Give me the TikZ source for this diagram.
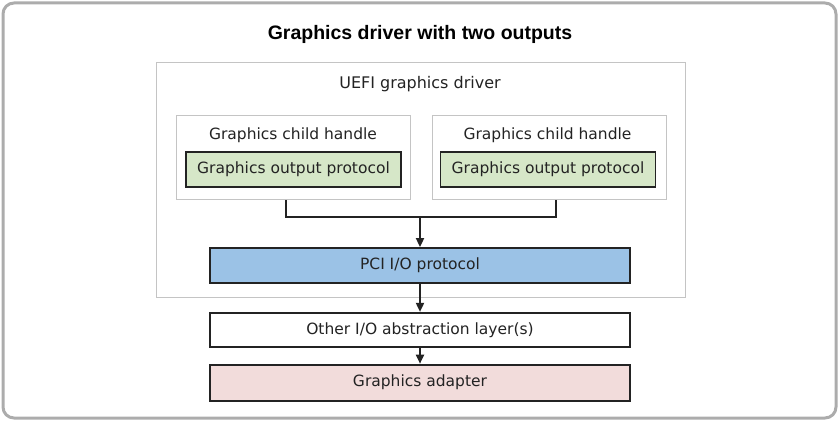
\documentclass[tikz,border=0pt]{standalone}
\usepackage{fontspec}
\setmainfont{DejaVu Sans}
\newfontfamily\headfont{Liberation Sans}
\usepackage{tikz}
\usepackage{xcolor}
\usetikzlibrary{arrows.meta,positioning}
\definecolor{gopGreen}{RGB}{214,231,200}
\definecolor{pciBlue}{RGB}{155,194,230}
\definecolor{adapterPink}{RGB}{242,220,219}
\definecolor{frameGray}{RGB}{172,172,172}
\definecolor{lineGray}{RGB}{196,196,196}
\definecolor{inkDark}{RGB}{35,35,35}

\begin{document}
\begin{tikzpicture}[
    x=1pt, y=-1pt,
    every node/.style={text=inkDark, font=\fontsize{15.5pt}{18pt}\selectfont},
    title/.style={font=\headfont\bfseries\fontsize{19.5pt}{22pt}\selectfont, text=black},
    holder/.style={
        rectangle, draw=lineGray, line width=1pt, fill=white, inner sep=0pt
    },
    gop/.style={
        rectangle, draw=inkDark, line width=1.8pt, fill=gopGreen,
        minimum width=215pt, minimum height=35pt, inner sep=0pt
    },
    layer/.style={
        rectangle, draw=inkDark, line width=1.8pt,
        minimum width=420pt, minimum height=35pt, inner sep=0pt
    },
    link/.style={line width=1.8pt, draw=inkDark},
    arrow/.style={-{Triangle[length=9pt,width=8pt]}, line width=1.8pt, draw=inkDark}
]

\useasboundingbox (0,0) rectangle (840,422);
\draw[frameGray, line width=3pt, rounded corners=11pt] (3,3) rectangle (836,418);

\node[title] (title) at (420,34) {Graphics driver with two outputs};

% driver with its two child handles
\node[holder, minimum width=529pt, minimum height=234pt] (driver) at (420.5,180) {};
\node (drvname) at (420,84) {\fontsize{16pt}{18pt}\selectfont UEFI graphics driver};

\node[holder, minimum width=234pt, minimum height=84pt] (hdlA) at (293,158) {};
\node[holder, minimum width=234pt, minimum height=84pt, right=21pt of hdlA] (hdlB) {};
\node (hdlnameA) at (293,135) {Graphics child handle};
\node (hdlnameB) at (547.5,135) {Graphics child handle};
\node[gop] (gopA) at (293.5,169.5) {Graphics output protocol};
\node[gop] (gopB) at (548,169.5) {Graphics output protocol};

\node[layer, fill=pciBlue] (pci) at (420,265.5) {PCI I/O protocol};
\node[layer, fill=white, minimum height=34pt, below=28pt of pci] (other) {Other I/O abstraction layer(s)};
\node[layer, fill=adapterPink, minimum height=36pt, below=16pt of other] (adapter) {Graphics adapter};

\coordinate (join) at (420,217);
\draw[link] ([xshift=-7pt]hdlA.south) |- (join) -| ([xshift=7pt]hdlB.south);
\draw[arrow] (join) -- (pci.north);
\draw[arrow] (pci) -- (other);
\draw[arrow] (other) -- (adapter);

\end{tikzpicture}
\end{document}
